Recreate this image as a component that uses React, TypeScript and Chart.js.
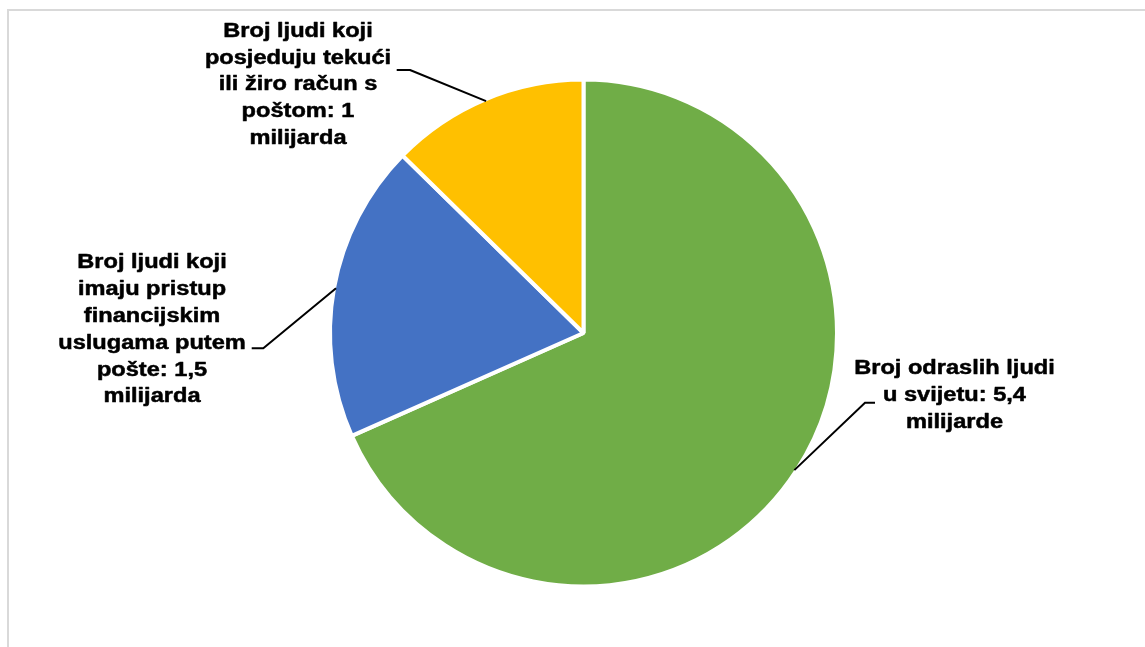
import React, { useEffect, useRef } from "react";
import { Chart, registerables } from "chart.js";

Chart.register(...registerables);

const categories = [
  "Broj odraslih ljudi u svijetu",
  "Broj ljudi koji imaju pristup financijskim uslugama putem pošte",
  "Broj ljudi koji posjeduju tekući ili žiro račun s poštom",
];
const values = [5.4, 1.5, 1];
const labelLines = [
  ["Broj odraslih ljudi", "u svijetu: 5,4", "milijarde"],
  ["Broj ljudi koji", "imaju pristup", "financijskim", "uslugama putem", "pošte: 1,5", "milijarda"],
  ["Broj ljudi koji", "posjeduju tekući", "ili žiro račun s", "poštom: 1", "milijarda"],
];
const colors = ["#70AD47", "#4472C4", "#FFC000"];

// label layout (styles): text centre x, first baseline y, elbow point, end of horizontal tick
const labelPos = [
  { cx: 954.5, y0: 374.3, elbow: [865, 402.7], tick: [875, 402.7] },
  { cx: 152, y0: 268.3, elbow: [263.3, 348.3], tick: [251.7, 348.3] },
  { cx: 298, y0: 36.7, elbow: [410, 70], tick: [396.7, 70] },
];
const LINE_STEP = 26.8;
const X_SCALE = 1.18;

const labelPlugin = {
  id: "pieLabels",
  afterDraw(chart: any) {
    const ctx = chart.ctx;
    const meta = chart.getDatasetMeta(0);
    ctx.save();
    meta.data.forEach((arc: any, i: number) => {
      const p = labelPos[i];
      const mid = (arc.startAngle + arc.endAngle) / 2;
      const r = arc.outerRadius - 2;
      const ex = arc.x + Math.cos(mid) * r;
      const ey = arc.y + Math.sin(mid) * r;
      ctx.beginPath();
      ctx.strokeStyle = "#000";
      ctx.lineWidth = 2;
      ctx.moveTo(ex, ey);
      ctx.lineTo(p.elbow[0], p.elbow[1]);
      ctx.lineTo(p.tick[0], p.tick[1]);
      ctx.stroke();

      ctx.fillStyle = "#000";
      ctx.strokeStyle = "#000";
      ctx.lineWidth = 0.5;
      ctx.lineJoin = "round";
      ctx.font = "bold 20px 'Liberation Sans', Arial, sans-serif";
      ctx.textAlign = "center";
      ctx.textBaseline = "alphabetic";
      labelLines[i].forEach((line, k) => {
        ctx.save();
        ctx.translate(p.cx, p.y0 + k * LINE_STEP);
        ctx.scale(X_SCALE, 1);
        ctx.fillText(line, 0, 0);
        ctx.strokeText(line, 0, 0);
        ctx.restore();
      });
    });
    ctx.restore();
  },
};

export default function App() {
  const ref = useRef<HTMLCanvasElement | null>(null);
  useEffect(() => {
    if (!ref.current) return;
    const chart = new Chart(ref.current, {
      type: "pie",
      data: {
        labels: categories,
        datasets: [
          {
            data: values,
            backgroundColor: colors,
            borderColor: "#ffffff",
            borderWidth: 4,
          },
        ],
      },
      options: {
        animation: false,
        responsive: false,
        maintainAspectRatio: false,
        layout: { padding: { left: 22, right: 0, top: 77.5, bottom: 58.5 } },
        plugins: {
          legend: { display: false },
          tooltip: { enabled: false },
        },
      },
      plugins: [labelPlugin],
    });
    return () => chart.destroy();
  }, []);

  return (
    <div>
      <div
        style={{
          position: "absolute",
          left: 7,
          top: 9,
          width: 1136,
          height: 636,
          borderTop: "2px solid #d9d9d9",
          borderLeft: "2px solid #d9d9d9",
          background: "#fff",
        }}
      />
      <canvas
        ref={ref}
        width={1145}
        height={647}
        style={{ position: "absolute", left: 0, top: 0, width: 1145, height: 647 }}
      />
    </div>
  );
}
